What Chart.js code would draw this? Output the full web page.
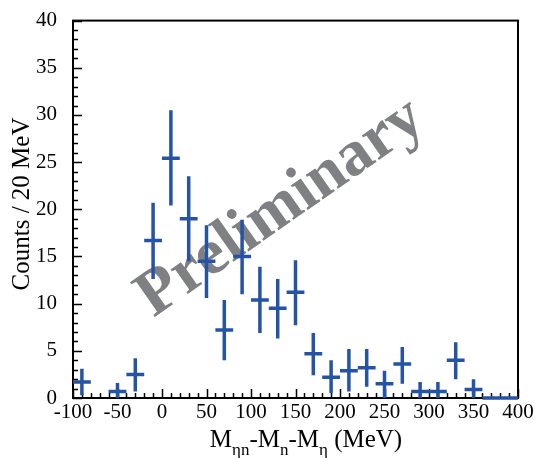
<!DOCTYPE html>
<html>
<head>
<meta charset="utf-8">
<script src="https://cdn.jsdelivr.net/npm/chart.js@4/dist/chart.umd.min.js"></script>
<style>
  body { margin: 0; background: #fff; }
</style>
</head>
<body>
<canvas id="chart" width="538" height="458"></canvas>
<script>
// bin centres (MeV), 20 MeV bins
const binCenters = [-90, -50, -30, -10, 10, 30, 50, 70, 90, 110, 130, 150, 170, 190, 210, 230, 250, 270, 290, 310, 330, 350, 370, 390];
const counts     = [1.7, 0.7, 2.5, 16.7, 25.4, 19.0, 14.5, 7.2, 15.0, 10.4, 9.5, 11.2, 4.7, 2.2, 2.9, 3.2, 1.5, 3.6, 0.7, 0.7, 4.0, 0.9, 0, 0];
const errHigh    = [3.1, 1.6, 4.2, 20.7, 30.5, 23.5, 18.3, 10.4, 18.9, 13.9, 12.6, 14.6, 6.9, 4.0, 5.2, 5.2, 2.9, 5.4, 1.7, 1.7, 5.9, 2.0, 0, 0];
const errLow     = [0.3, 0, 0.7, 12.6, 20.4, 14.5, 10.6, 4.0, 11.0, 6.9, 6.3, 7.7, 2.4, 0.5, 0.7, 1.2, 0, 1.5, 0, 0, 2.0, 0, 0, 0];
const binWidth = 20;

const xTicks = [-100, -50, 0, 50, 100, 150, 200, 250, 300, 350, 400];
const yTicks = [0, 5, 10, 15, 20, 25, 30, 35, 40];

const blue = '#2553a6';
const serif = '"Liberation Serif", "DejaVu Serif", serif';

// watermark + frame under the data
const backdrop = {
  id: 'backdrop',
  beforeDatasetsDraw(chart) {
    const ctx = chart.ctx;
    ctx.save();
    ctx.translate(281, 208);
    ctx.rotate(-35 * Math.PI / 180);
    ctx.fillStyle = '#7f8084';
    ctx.font = 'bold 65px ' + serif;
    ctx.textAlign = 'center';
    ctx.textBaseline = 'middle';
    ctx.fillText('Preliminary', 0, 0);
    ctx.restore();

    const a = chart.chartArea;
    const x = chart.scales.x, y = chart.scales.y;
    ctx.save();
    ctx.strokeStyle = '#000';
    ctx.lineWidth = 2;
    ctx.strokeRect(a.left, a.top, a.right - a.left, a.bottom - a.top);
    ctx.lineWidth = 1.5;
    ctx.beginPath();
    for (let v = -100; v <= 400; v += 10) {
      const px = Math.round(x.getPixelForValue(v)) + 0.5;
      const len = v % 50 === 0 ? 9 : 5;
      ctx.moveTo(px, a.bottom);
      ctx.lineTo(px, a.bottom - len);
    }
    for (let v = 0; v <= 40; v += 1) {
      const py = Math.round(y.getPixelForValue(v)) + 0.5;
      const len = v % 5 === 0 ? 9 : 5;
      ctx.moveTo(a.left, py);
      ctx.lineTo(a.left + len, py);
    }
    ctx.stroke();
    ctx.restore();
  }
};

// crosses: horizontal = bin width, vertical = error
const errorBars = {
  id: 'errorBars',
  afterDatasetsDraw(chart) {
    const ctx = chart.ctx;
    const x = chart.scales.x, y = chart.scales.y;
    ctx.save();
    ctx.strokeStyle = blue;
    ctx.lineWidth = 3.5;
    ctx.lineCap = 'butt';
    binCenters.forEach((c, i) => {
      const px = x.getPixelForValue(c);
      const py = y.getPixelForValue(counts[i]);
      ctx.beginPath();
      ctx.moveTo(x.getPixelForValue(c - binWidth / 2), py);
      ctx.lineTo(x.getPixelForValue(c + binWidth / 2), py);
      if (errHigh[i] > errLow[i]) {
        ctx.moveTo(px, y.getPixelForValue(errHigh[i]));
        ctx.lineTo(px, y.getPixelForValue(errLow[i]));
      }
      ctx.stroke();
    });
    ctx.restore();
  }
};

// axis titles
const titles = {
  id: 'titles',
  afterDraw(chart) {
    const ctx = chart.ctx;
    ctx.save();
    ctx.fillStyle = '#000';
    ctx.font = '25px ' + serif;
    ctx.textAlign = 'center';
    ctx.textBaseline = 'middle';
    ctx.translate(22, 204);
    ctx.rotate(-Math.PI / 2);
    ctx.fillText('Counts / 20 MeV', 0, 0);
    ctx.restore();

    // M_ηn-M_n-M_η (MeV)
    const parts = [['M', 0], ['ηn', 1], ['-M', 0], ['n', 1], ['-M', 0], ['η', 1], [' (MeV)', 0]];
    const big = '25px ' + serif, small = '17px ' + serif;
    ctx.save();
    ctx.fillStyle = '#000';
    ctx.textBaseline = 'alphabetic';
    let total = 0;
    parts.forEach(p => { ctx.font = p[1] ? small : big; total += ctx.measureText(p[0]).width; });
    let cx = 306 - total / 2;
    parts.forEach(p => {
      ctx.font = p[1] ? small : big;
      ctx.fillText(p[0], cx, p[1] ? 455 : 447);
      cx += ctx.measureText(p[0]).width;
    });
    ctx.restore();
  }
};

new Chart(document.getElementById('chart').getContext('2d'), {
  type: 'scatter',
  data: {
    datasets: [{
      label: 'data',
      data: binCenters.map((c, i) => ({ x: c, y: counts[i] })),
      pointRadius: 0,
      showLine: false
    }]
  },
  options: {
    responsive: false,
    animation: false,
    devicePixelRatio: 1,
    layout: { padding: { top: 16, right: 20, left: 0, bottom: 0 } },
    plugins: { legend: { display: false }, tooltip: { enabled: false } },
    scales: {
      x: {
        type: 'linear',
        min: -100, max: 400,
        afterFit(s) { s.height = 60; },
        afterBuildTicks(s) { s.ticks = xTicks.map(v => ({ value: v })); },
        grid: { display: false },
        border: { display: false },
        ticks: { color: '#000', font: { family: serif, size: 21 }, padding: -6, maxRotation: 0, autoSkip: false }
      },
      y: {
        type: 'linear',
        min: 0, max: 40,
        afterFit(s) { s.width = 73; },
        afterBuildTicks(s) { s.ticks = yTicks.map(v => ({ value: v })); },
        grid: { display: false },
        border: { display: false },
        ticks: { color: '#000', font: { family: serif, size: 21 }, padding: 8 }
      }
    }
  },
  plugins: [backdrop, errorBars, titles]
});
</script>
</body>
</html>
